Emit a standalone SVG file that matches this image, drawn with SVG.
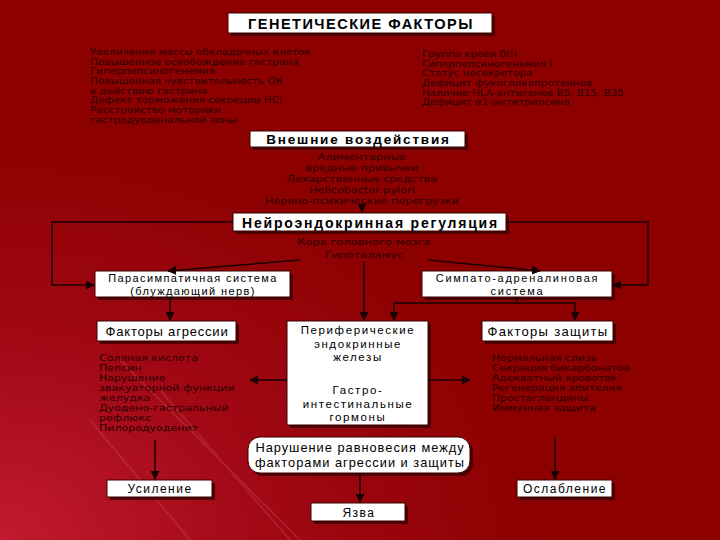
<svg xmlns="http://www.w3.org/2000/svg" width="720" height="540" viewBox="0 0 720 540">
<defs>
<radialGradient id="bg" cx="0" cy="1" r="0.75">
<stop offset="0" stop-color="#c21a2e"/>
<stop offset="0.5" stop-color="#a00814"/>
<stop offset="1" stop-color="#8c0000"/>
</radialGradient>
<marker id="ah" viewBox="0 0 10 10" refX="9" refY="5" markerWidth="6" markerHeight="6" orient="auto-start-reverse">
<path d="M0,0 L10,5 L0,10 z" fill="#1a0000"/>
</marker>
<style>
.box{fill:#ffffff;stroke:#3a0000;stroke-width:1}
.sh{fill:#3a0000;opacity:0.8}
.t{font-family:"Liberation Sans",Arial,sans-serif;fill:#000;text-anchor:middle}
.b{font-weight:bold}
.lst{font-family:"DejaVu Sans","Liberation Sans",sans-serif;font-size:8.3px;fill:#2a0000}
.lc{text-anchor:middle}
.con{fill:none;stroke:#1a0000;stroke-width:1.5}
</style>
</defs>
<rect x="0" y="0" width="720" height="540" fill="url(#bg)"/>
<g opacity="0.12" stroke="#ffb0b0" stroke-width="2" fill="none">
<path d="M120,360 L300,540"/>
<path d="M160,390 L290,540"/>
<path d="M90,420 L190,540"/>
</g>

<g id="genetic">
<rect class="sh" x="231" y="16" width="264" height="20"/>
<rect class="box" x="228" y="13" width="264" height="20"/>
<text class="t b" x="361" y="28.5" font-size="14.5" letter-spacing="1.5">ГЕНЕТИЧЕСКИЕ ФАКТОРЫ</text>
</g>

<g id="genetic-left" transform="translate(90,0) scale(1.26,1) translate(-90,0)">
<text class="lst" x="90" y="55">Увеличение массы обкладочных клеток</text>
<text class="lst" x="90" y="64.7">Повышенное освобождение гастрина</text>
<text class="lst" x="90" y="74.4">Гиперпепсиногенемия</text>
<text class="lst" x="90" y="84.1">Повышенная чувствительность ОК</text>
<text class="lst" x="90" y="93.8">к действию гастрина</text>
<text class="lst" x="90" y="103.5">Дефект торможения секреции HCl</text>
<text class="lst" x="90" y="113.2">Расстройство моторики</text>
<text class="lst" x="90" y="122.9">гастродуоденальной зоны</text>
</g>

<g id="genetic-right" transform="translate(422,0) scale(1.25,1) translate(-422,0)">
<text class="lst" x="422" y="57">Группа крови 0(I)</text>
<text class="lst" x="422" y="66.7">Гиперпепсиногенемия I</text>
<text class="lst" x="422" y="76.4">Статус несекретора</text>
<text class="lst" x="422" y="86.1">Дефицит фукогликопротеинов</text>
<text class="lst" x="422" y="95.8">Наличие HLA-антигенов B5, B15, B35</text>
<text class="lst" x="422" y="105.5">Дефицит α1-антитрипсина</text>
</g>

<g id="external">
<rect class="sh" x="253" y="134" width="215" height="16"/>
<rect class="box" x="250" y="131" width="215" height="16"/>
<text class="t b" x="358.5" y="144" font-size="13.5" letter-spacing="1.8">Внешние воздействия</text>
</g>

<g id="external-list" transform="translate(362,0) scale(1.35,1) translate(-362,0)">
<text class="lst lc" x="362" y="160" font-size="9.2">Алиментарные</text>
<text class="lst lc" x="362" y="171" font-size="9.2">вредные привычки</text>
<text class="lst lc" x="362" y="182" font-size="9.2">Лекарственные средства</text>
<text class="lst lc" x="362" y="193" font-size="9.2">Helicobacter pylori</text>
<text class="lst lc" x="362" y="204" font-size="9.2">Нервно-психические перегрузки</text>
</g>

<g id="neuro">
<rect class="sh" x="236" y="216" width="273" height="18"/>
<rect class="box" x="233" y="213" width="273" height="18"/>
<text class="t b" x="370.5" y="227.5" font-size="14" letter-spacing="1.8">Нейроэндокринная регуляция</text>
</g>

<g id="cortex" transform="translate(364,0) scale(1.38,1) translate(-364,0)">
<text class="lst lc" x="364" y="245" font-size="11">Кора головного мозга</text>
<text class="lst lc" x="364" y="258" font-size="11">Гипоталамус</text>
</g>

<g id="parasym">
<rect class="sh" x="98" y="274" width="195" height="26"/>
<rect class="box" x="95" y="271" width="195" height="26"/>
<text class="t" x="193" y="282" font-size="11" letter-spacing="1.4">Парасимпатичная система</text>
<text class="t" x="193" y="294.7" font-size="11" letter-spacing="1.4">(блуждающий нерв)</text>
</g>

<g id="sym">
<rect class="sh" x="425" y="274" width="190" height="26"/>
<rect class="box" x="422" y="271" width="190" height="26"/>
<text class="t" x="517.5" y="282" font-size="11" letter-spacing="1.7">Симпато-адреналиновая</text>
<text class="t" x="517.5" y="294.7" font-size="11" letter-spacing="1.7">система</text>
</g>

<g id="aggression">
<rect class="sh" x="100" y="324" width="139" height="20"/>
<rect class="box" x="97" y="321" width="139" height="20"/>
<text class="t" x="167" y="335.5" font-size="13" letter-spacing="0.8">Факторы агрессии</text>
</g>

<g id="aggression-list" transform="translate(99,0) scale(1.33,1) translate(-99,0)">
<text class="lst" x="99" y="361" font-size="8.5">Соляная кислота</text>
<text class="lst" x="99" y="371" font-size="8.5">Пепсин</text>
<text class="lst" x="99" y="381" font-size="8.5">Нарушение</text>
<text class="lst" x="99" y="391" font-size="8.5">эвакуаторной функции</text>
<text class="lst" x="99" y="401" font-size="8.5">желудка</text>
<text class="lst" x="99" y="411" font-size="8.5">Дуодено-гастральный</text>
<text class="lst" x="99" y="421" font-size="8.5">рефлюкс</text>
<text class="lst" x="99" y="431" font-size="8.5">Пилородуоденит</text>
</g>

<g id="periph">
<rect class="sh" x="290" y="324" width="141" height="104"/>
<rect class="box" x="287" y="321" width="141" height="104"/>
<text class="t" x="358" y="334" font-size="11.5" letter-spacing="1.6">Периферические</text>
<text class="t" x="358" y="347.5" font-size="11.5" letter-spacing="1.6">эндокринные</text>
<text class="t" x="358" y="361" font-size="11.5" letter-spacing="1.6">железы</text>
<text class="t" x="358" y="394" font-size="11.5" letter-spacing="1.6">Гастро-</text>
<text class="t" x="358" y="407.5" font-size="11.5" letter-spacing="1.6">интестинальные</text>
<text class="t" x="358" y="421" font-size="11.5" letter-spacing="1.6">гормоны</text>
</g>

<g id="protection">
<rect class="sh" x="485" y="324" width="131" height="20"/>
<rect class="box" x="482" y="321" width="131" height="20"/>
<text class="t" x="548" y="335.5" font-size="13" letter-spacing="1.3">Факторы защиты</text>
</g>

<g id="protection-list" transform="translate(492,0) scale(1.3,1) translate(-492,0)">
<text class="lst" x="492" y="361" font-size="8.5">Нормальная слизь</text>
<text class="lst" x="492" y="371" font-size="8.5">Секреция бикарбонатов</text>
<text class="lst" x="492" y="381" font-size="8.5">Адекватный кровоток</text>
<text class="lst" x="492" y="391" font-size="8.5">Регенерация эпителия</text>
<text class="lst" x="492" y="401" font-size="8.5">Простагландины</text>
<text class="lst" x="492" y="411" font-size="8.5">Иммунная защита</text>
</g>

<g id="imbalance">
<rect class="sh" x="251" y="440" width="222" height="36" rx="12"/>
<rect class="box" x="248" y="437" width="222" height="36" rx="12"/>
<text class="t" x="360" y="452" font-size="12.8" letter-spacing="1">Нарушение равновесия между</text>
<text class="t" x="360" y="467" font-size="12.8" letter-spacing="1">факторами агрессии и защиты</text>
</g>

<g id="increase">
<rect class="sh" x="110" y="483" width="105" height="17"/>
<rect class="box" x="107" y="480" width="105" height="17"/>
<text class="t" x="160" y="493" font-size="12" letter-spacing="1.5">Усиление</text>
</g>

<g id="decrease">
<rect class="sh" x="520" y="483" width="95" height="17"/>
<rect class="box" x="517" y="480" width="95" height="17"/>
<text class="t" x="565" y="493" font-size="12" letter-spacing="1.5">Ослабление</text>
</g>

<g id="ulcer">
<rect class="sh" x="314" y="506" width="94" height="18"/>
<rect class="box" x="311" y="503" width="94" height="18"/>
<text class="t" x="359" y="516.5" font-size="12" letter-spacing="1.5">Язва</text>
</g>

<g id="connectors">
<path class="con" d="M362,206 L362,212" marker-end="url(#ah)"/>
<path class="con" d="M233,222 L52,222 L52,285 L94,285" marker-end="url(#ah)"/>
<path class="con" d="M506,222 L648,222 L648,285 L613,285" marker-end="url(#ah)"/>
<path class="con" d="M364,261 L364,320" marker-end="url(#ah)"/>
<path class="con" d="M300,260 L168,271" marker-end="url(#ah)"/>
<path class="con" d="M428,260 L540,271" marker-end="url(#ah)"/>
<path class="con" d="M170,297 L170,320" marker-end="url(#ah)"/>
<path class="con" d="M517,297 L517,303"/>
<path class="con" d="M394,303 L575,303"/>
<path class="con" d="M394,303 L394,320" marker-end="url(#ah)"/>
<path class="con" d="M575,303 L575,320" marker-end="url(#ah)"/>
<path class="con" d="M287,380 L250,380" marker-end="url(#ah)"/>
<path class="con" d="M428,380 L470,380" marker-end="url(#ah)"/>
<path class="con" d="M155,440 L155,479" marker-end="url(#ah)"/>
<path class="con" d="M555,437 L555,479" marker-end="url(#ah)"/>
<path class="con" d="M360,473 L360,502" marker-end="url(#ah)"/>
</g>
</svg>
